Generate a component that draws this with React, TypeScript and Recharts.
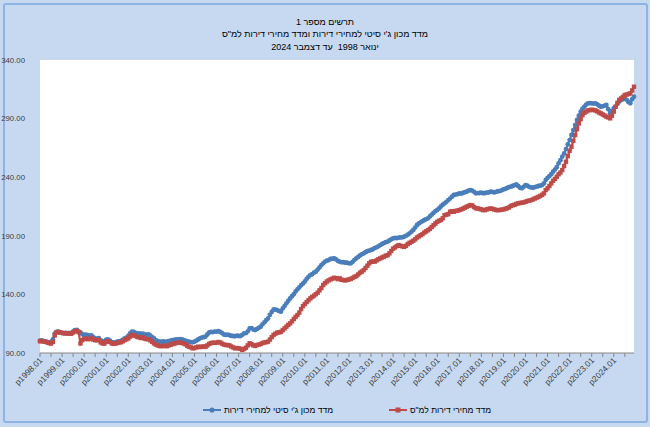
import React from 'react';
import { LineChart, Line, XAxis, YAxis, CartesianGrid } from 'recharts';

const YEARS = [
  1998, 1999, 2000, 2001, 2002, 2003, 2004, 2005, 2006, 2007, 2008, 2009, 2010, 2011,
  2012, 2013, 2014, 2015, 2016, 2017, 2018, 2019, 2020, 2021, 2022, 2023, 2024,
];
const MONTHS = ['01', '02', '03', '04', '05', '06', '07', '08', '09', '10', '11', '12'];
const Y_TICKS = [90, 140, 190, 240, 290, 340];

// מדד מכון ג'י סיטי – one row per year, Jan..Dec
const GCITY_INDEX = [
  100.5, 100.8, 100.2, 99.8, 99.2, 99.0, 99.5, 101.5, 106.5, 108.0, 108.3, 107.6,
  107.0, 106.8, 107.2, 106.9, 107.1, 106.6, 108.2, 109.6, 109.8, 108.4, 107.6, 106.0,
  105.4, 105.6, 105.2, 104.8, 105.0, 103.6, 102.5, 102.2, 102.6, 100.8, 100.2, 99.8,
  101.4, 101.7, 100.6, 99.2, 99.0, 98.8, 99.6, 100.0, 100.4, 101.2, 102.5, 103.0,
  104.5, 106.8, 108.2, 108.0, 107.2, 106.5, 106.8, 106.2, 106.6, 105.8, 105.5, 105.9,
  104.8, 103.5, 102.5, 101.0, 100.2, 99.7, 99.5, 99.8, 99.4, 99.6, 100.2, 100.5,
  101.0, 101.2, 101.6, 101.4, 101.8, 101.5, 101.2, 100.6, 100.0, 99.6, 99.2, 99.1,
  99.6, 100.5, 101.5, 102.5, 103.2, 103.5, 104.0, 105.8, 107.5, 108.0, 107.8, 108.3,
  108.2, 108.6, 108.0, 107.0, 105.8, 105.4, 105.6, 105.2, 104.6, 104.5, 104.2, 104.8,
  104.5, 104.5, 105.5, 106.8, 107.0, 108.5, 111.0, 111.2, 110.0, 109.6, 110.5, 111.5,
  112.4, 114.5, 116.2, 118.0, 119.5, 122.5, 125.0, 127.2, 127.0, 126.5, 125.8, 125.3,
  128.0, 130.2, 132.4, 134.5, 136.6, 138.5, 140.2, 142.5, 144.3, 146.0, 147.8, 149.4,
  151.0, 153.2, 155.0, 156.5, 157.2, 158.5, 159.4, 161.2, 163.0, 165.0, 166.5, 168.0,
  168.8, 169.3, 170.2, 170.5, 170.7, 169.8, 168.6, 167.9, 167.4, 167.6, 167.0, 167.0,
  166.5, 166.5, 167.8, 169.5, 170.8, 172.0, 173.2, 174.2, 175.0, 176.0, 176.8, 177.4,
  177.9, 178.5, 179.5, 180.2, 181.0, 182.1, 183.0, 183.8, 184.5, 185.0, 186.0, 187.0,
  187.8, 188.2, 188.0, 188.4, 188.6, 188.7, 189.2, 190.0, 191.0, 192.1, 193.5, 195.0,
  197.0, 199.2, 200.5, 201.5, 202.5, 203.5, 204.2, 204.9, 206.5, 208.0, 209.5, 211.0,
  212.0, 213.4, 215.0, 216.5, 217.7, 219.0, 220.5, 221.8, 223.4, 224.8, 225.2, 225.5,
  226.2, 226.0, 226.5, 227.2, 227.6, 228.5, 229.0, 228.6, 227.5, 226.2, 226.4, 226.5,
  226.8, 226.2, 226.5, 226.8, 227.0, 227.6, 227.4, 227.0, 227.5, 228.0, 228.2, 228.8,
  229.6, 230.0, 230.8, 231.5, 231.9, 232.5, 233.2, 233.8, 232.5, 231.0, 230.5, 231.8,
  233.3, 232.8, 231.8, 231.3, 231.0, 231.5, 231.9, 232.5, 232.8, 233.3, 234.7, 237.6,
  239.5, 241.0, 242.5, 244.7, 246.5, 248.5, 251.8, 254.5, 257.5, 260.3, 264.0, 268.0,
  271.7, 276.0, 280.2, 284.5, 288.8, 292.5, 295.9, 298.5, 300.1, 302.0, 303.0, 303.2,
  303.0, 302.8, 303.0, 302.2, 301.0, 300.1, 300.5, 301.0, 301.6, 298.0, 294.4, 296.5,
  299.0, 300.1, 302.5, 304.5, 305.8, 306.5, 307.2, 306.0, 304.0, 303.0, 306.5, 308.7,
];

// מדד מחירי דירות למ"ס – one row per year, Jan..Dec
const CBS_INDEX = [
  100.0, 100.2, 99.8, 99.6, 99.0, 98.5, 98.0, 99.5, 105.0, 107.5, 108.0, 107.5,
  107.2, 107.0, 106.8, 106.6, 106.8, 106.5, 107.5, 108.6, 108.8, 107.8, 98.2, 101.0,
  102.0, 102.2, 101.8, 102.0, 103.0, 101.5, 101.0, 100.8, 101.2, 99.0, 98.2, 98.0,
  99.5, 100.0, 99.6, 98.2, 97.8, 98.0, 98.6, 99.0, 99.2, 100.0, 101.0, 101.7,
  102.5, 104.0, 105.4, 105.0, 104.5, 103.6, 103.4, 102.8, 103.2, 102.2, 101.8, 101.7,
  100.8, 99.5, 98.2, 97.2, 96.5, 96.0, 95.8, 96.2, 96.0, 95.8, 96.5, 97.0,
  97.6, 98.0, 98.5, 98.8, 99.0, 98.6, 98.2, 97.5, 96.2, 95.4, 94.8, 94.0,
  94.2, 94.8, 95.4, 95.0, 95.4, 95.6, 95.2, 96.5, 97.8, 98.5, 98.8, 98.6,
  98.8, 99.4, 99.0, 98.0, 97.2, 96.8, 96.8, 96.5, 95.6, 94.8, 94.0, 94.2,
  94.0, 93.5, 92.6, 93.5, 94.5, 96.5, 98.3, 97.5, 96.5, 96.0, 96.8, 97.2,
  97.7, 98.5, 99.0, 99.2, 99.7, 101.5, 103.5, 105.4, 106.5, 107.4, 107.6, 108.0,
  109.6, 111.0, 112.5, 114.0, 115.3, 117.0, 119.0, 120.8, 122.4, 124.5, 127.5, 130.0,
  131.8, 133.5, 135.0, 136.6, 137.8, 139.0, 140.2, 141.5, 143.5, 145.5, 148.0, 149.6,
  151.0, 152.0, 152.8, 153.5, 154.2, 153.8, 153.0, 153.7, 152.5, 152.2, 152.0, 152.3,
  152.8, 153.2, 154.0, 155.0, 155.6, 157.0, 158.5, 159.5, 160.7, 162.5, 164.5, 166.5,
  167.8, 168.2, 168.0, 169.0, 170.0, 170.7, 171.5, 172.2, 173.0, 173.5, 175.0, 177.0,
  179.0, 180.0, 181.2, 182.0, 181.5, 181.0, 180.6, 181.5, 183.0, 184.0, 184.9, 185.8,
  187.0, 188.5, 189.5, 190.5, 191.5, 192.8, 193.8, 194.8, 196.0, 197.5, 199.0, 200.5,
  201.9, 202.8, 203.5, 205.0, 207.6, 208.0, 208.5, 210.5, 211.0, 210.5, 211.2, 211.5,
  211.9, 212.5, 213.2, 214.0, 214.8, 215.5, 216.2, 216.0, 214.5, 213.5, 213.3, 213.0,
  212.5, 211.9, 212.0, 212.6, 213.0, 213.3, 213.0, 212.5, 212.0, 211.9, 212.0, 212.3,
  212.5, 213.0, 213.5, 214.2, 215.4, 216.0, 216.5, 217.2, 217.7, 218.0, 218.2, 218.5,
  219.0, 219.6, 220.0, 220.4, 221.0, 221.8, 222.5, 223.2, 224.0, 225.0, 226.2, 229.0,
  230.5, 232.5, 234.7, 237.0, 238.5, 240.4, 242.5, 244.0, 246.1, 249.5, 253.2, 258.0,
  262.5, 266.0, 271.0, 276.0, 281.0, 285.9, 289.5, 293.0, 295.0, 295.9, 297.0, 297.3,
  297.5, 297.3, 297.0, 296.2, 295.2, 294.4, 293.5, 292.6, 291.6, 291.0, 290.2, 292.5,
  296.0, 300.1, 303.5, 306.0, 307.2, 308.5, 310.1, 310.5, 311.0, 311.5, 314.0, 317.2,
];

const TITLE_LINES = [
  'תרשים מספר 1',
  'מדד מכון ג\'י סיטי למחירי דירות ומדד מחירי דירות למ"ס',
  'ינואר 1998  עד דצמבר 2024',
];
const GCITY_LABEL = 'מדד מכון ג\'י סיטי למחירי דירות';
const CBS_LABEL = 'מדד מחירי דירות למ"ס';

const BLUE = '#4a7ebb';
const RED = '#be4b48';
const FONT = '"Liberation Sans", Arial, sans-serif';

const data = YEARS.flatMap((year, yi) =>
  MONTHS.map((month, mi) => ({
    label: `p${year}.${month}`,
    gcity: GCITY_INDEX[yi * 12 + mi],
    cbs: CBS_INDEX[yi * 12 + mi],
  })),
);

const XTick = (props: any) => {
  const { x, y, payload } = props;
  if (!String(payload.value).endsWith('.01')) return <g />;
  const ax = x + 3;
  const ay = y + 2;
  return (
    <text
      x={ax}
      y={ay}
      transform={`rotate(-45 ${ax} ${ay})`}
      textAnchor="end"
      fontSize={8.4}
      fontFamily={FONT}
      fill="#404040"
    >
      {payload.value}
    </text>
  );
};

const CircleDot = (props: any) => {
  const { cx, cy, index } = props;
  return <circle key={`g${index}`} cx={cx} cy={cy} r={2.4} fill={BLUE} />;
};

const SquareDot = (props: any) => {
  const { cx, cy, index } = props;
  return <rect key={`c${index}`} x={cx - 2.2} y={cy - 2.2} width={4.4} height={4.4} fill={RED} />;
};

const LegendItem = ({ label, color, square }: { label: string; color: string; square?: boolean }) => (
  <div style={{ display: 'flex', alignItems: 'center', gap: 3 }}>
    <svg width={18} height={8}>
      <line x1={0} y1={4} x2={18} y2={4} stroke={color} strokeWidth={2} />
      {square ? (
        <rect x={6.5} y={1.5} width={5} height={5} fill={color} />
      ) : (
        <circle cx={9} cy={4} r={2.6} fill={color} />
      )}
    </svg>
    <span dir="rtl" style={{ whiteSpace: 'nowrap' }}>{label}</span>
  </div>
);

export default function App() {
  return (
    <div
      style={{
        position: 'fixed',
        left: 0,
        top: 0,
        width: 650,
        height: 427,
        background: '#c6d9f1',
        fontFamily: FONT,
      }}
    >
      <div
        style={{
          position: 'absolute',
          left: 3,
          top: 3,
          width: 641,
          height: 416,
          border: '2px solid #8db3e2',
          borderRadius: 3,
        }}
      />
      <svg width={650} height={56} style={{ position: 'absolute', left: 0, top: 0 }}>
        {TITLE_LINES.map((line, i) => (
          <text
            key={line}
            x={325}
            y={24.5 + i * 12.6}
            textAnchor="middle"
            direction="rtl"
            fontSize={9}
            fontFamily={FONT}
            fill="#000"
            style={{ whiteSpace: 'pre' }}
          >
            {line}
          </text>
        ))}
      </svg>
      <div style={{ position: 'absolute', left: 0, top: 0 }}>
        <LineChart
          width={650}
          height={427}
          data={data}
          margin={{ top: 60, right: 16, bottom: 24, left: 0 }}
        >
          <rect x={40} y={60} width={594} height={293} fill="#ffffff" />
          <CartesianGrid vertical={false} stroke="#d9d9d9" />
          <XAxis
            dataKey="label"
            interval={5}
            height={50}
            tick={<XTick />}
            tickSize={4}
            tickMargin={2}
            tickLine={{ stroke: '#868686' }}
            axisLine={{ stroke: '#868686' }}
          />
          <YAxis
            domain={[90, 340]}
            ticks={Y_TICKS}
            width={40}
            axisLine={false}
            tickLine={false}
            tickMargin={9}
            tickFormatter={(v: number) => v.toFixed(2)}
            tick={{ fontSize: 7.8, fill: '#404040', fontFamily: FONT }}
          />
          <Line
            dataKey="gcity"
            stroke={BLUE}
            strokeWidth={2.2}
            dot={CircleDot}
            activeDot={false}
            isAnimationActive={false}
          />
          <Line
            dataKey="cbs"
            stroke={RED}
            strokeWidth={2.2}
            dot={SquareDot}
            activeDot={false}
            isAnimationActive={false}
          />
        </LineChart>
      </div>
      <div
        style={{
          position: 'absolute',
          top: 405,
          left: 203,
          display: 'flex',
          gap: 56,
          fontSize: 8.5,
          color: '#000',
        }}
      >
        <LegendItem label={GCITY_LABEL} color={BLUE} />
        <LegendItem label={CBS_LABEL} color={RED} square />
      </div>
    </div>
  );
}
